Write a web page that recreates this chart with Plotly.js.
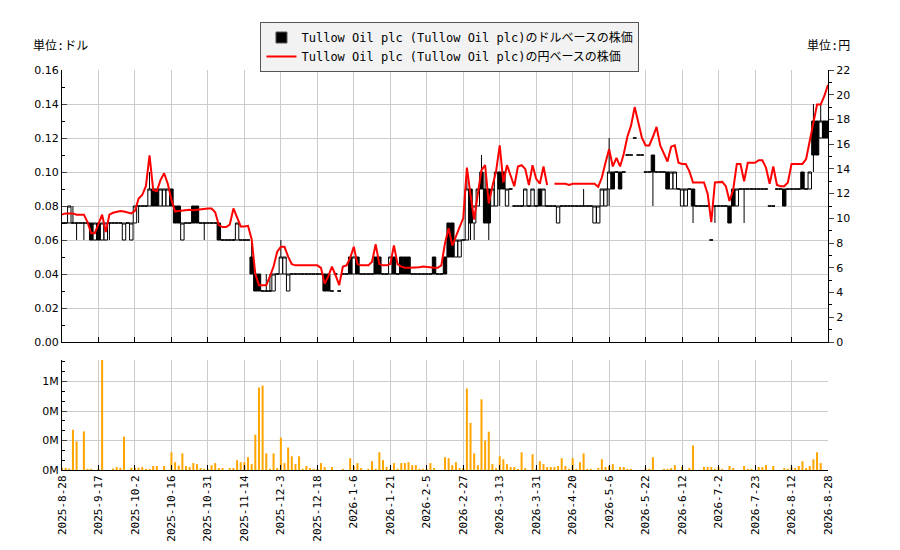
<!DOCTYPE html>
<html>
<head>
<meta charset="utf-8">
<script src="https://cdn.plot.ly/plotly-3.0.1.min.js"></script>
<style>
  html, body { margin: 0; padding: 0; background: #fff; }
  #chart { width: 900px; height: 550px; }
</style>
</head>
<body>
<div id="chart"></div>
<script>
// daily prices in USD (open/high/low/close), one entry per trading day
var usdOpen = [
  .07,.07,.07,.07,.07,.07,.07,.07,.07,.06,
  .07,.06,.06,.07,.07,.07,.07,.06,.07,.06,
  .07,.08,.08,.08,.08,.09,.09,.08,.08,.08,
  .09,.08,.08,.06,.07,.07,.08,.08,.07,.07,
  .07,.07,.07,.07,.06,.06,.06,.06,.06,.06,
  .06,.06,.05,.04,.04,.03,.03,.03,.03,.04,
  .04,.04,.03,.04,.04,.04,.04,.04,.04,.04,
  .04,.04,.04,.04,.03,.04,.03,.04,.04,.05,
  .04,.05,.04,.04,.04,.04,.05,.05,.04,.04,
  .04,.05,.04,.05,.05,.05,.04,.04,.04,.04,
  .04,.04,.05,.04,.04,.05,.07,.07,.05,.05,
  .06,.06,.09,.07,.08,.10,.09,.09,.08,.08,
  .10,.10,.08,.09,.08,.08,.08,.08,.08,.08,
  .08,.09,.08,.08,.08,.08,.07,.08,.08,.08,
  .08,.08,.08,.08,.08,.08,.07,.07,.08,.08,
  .09,.10,.10,.10,.10,.11,.11,.12,.11,.11,
  .10,.10,.11,.10,.10,.10,.10,.09,.09,.09,
  .08,.08,.09,.09,.08,.08,.08,.08,.06,.08,
  .08,.08,.08,.08,.09,.08,.09,.09,.09,.09,
  .09,.09,.09,.09,.08,.08,.09,.09,.09,.09,
  .09,.09,.09,.10,.09,.09,.13,.13,.12,.13,
  .13
];
var usdHigh = [
  .07,.07,.08,.08,.07,.07,.07,.07,.07,.07,
  .07,.07,.07,.07,.07,.07,.07,.07,.07,.07,
  .08,.08,.08,.08,.10,.09,.09,.09,.09,.09,
  .09,.08,.08,.07,.07,.07,.08,.08,.07,.07,
  .07,.07,.07,.07,.06,.06,.06,.06,.07,.06,
  .06,.06,.06,.04,.04,.03,.04,.04,.04,.04,
  .06,.05,.04,.04,.04,.04,.04,.04,.04,.04,
  .04,.04,.04,.04,.03,.04,.03,.04,.04,.05,
  .05,.05,.04,.04,.04,.04,.05,.05,.04,.04,
  .05,.05,.04,.05,.05,.05,.04,.04,.04,.04,
  .04,.04,.05,.04,.04,.05,.07,.07,.06,.06,
  .06,.10,.09,.08,.09,.11,.10,.09,.09,.10,
  .10,.10,.09,.09,.08,.08,.08,.09,.08,.09,
  .08,.09,.09,.08,.08,.08,.08,.08,.08,.08,
  .08,.08,.08,.09,.08,.08,.08,.08,.09,.09,
  .12,.10,.10,.10,.10,.11,.11,.12,.11,.11,
  .10,.10,.11,.10,.10,.10,.10,.10,.10,.09,
  .09,.09,.09,.09,.08,.08,.08,.08,.06,.08,
  .08,.08,.08,.08,.09,.09,.09,.09,.09,.09,
  .09,.09,.09,.09,.08,.08,.09,.09,.09,.09,
  .09,.09,.09,.10,.09,.10,.14,.13,.14,.13,
  .13
];
var usdLow = [
  .07,.07,.07,.07,.06,.07,.06,.07,.06,.06,
  .06,.06,.06,.06,.07,.07,.07,.06,.07,.06,
  .07,.07,.08,.08,.08,.08,.08,.08,.08,.08,
  .08,.07,.07,.06,.07,.07,.07,.07,.07,.06,
  .07,.07,.07,.06,.06,.06,.06,.06,.06,.06,
  .06,.06,.04,.03,.03,.03,.03,.03,.03,.04,
  .04,.04,.03,.04,.04,.04,.04,.04,.04,.04,
  .04,.04,.03,.03,.03,.04,.03,.04,.04,.04,
  .04,.04,.04,.04,.04,.04,.04,.04,.04,.04,
  .04,.04,.04,.04,.04,.04,.04,.04,.04,.04,
  .04,.04,.04,.04,.04,.04,.05,.05,.05,.05,
  .06,.06,.06,.06,.08,.09,.07,.06,.08,.08,
  .08,.09,.08,.09,.08,.08,.08,.08,.08,.08,
  .08,.08,.08,.08,.08,.08,.07,.08,.08,.08,
  .08,.08,.08,.08,.08,.08,.07,.07,.08,.08,
  .08,.09,.10,.09,.10,.11,.11,.12,.11,.11,
  .10,.10,.08,.10,.10,.10,.09,.09,.09,.09,
  .08,.08,.09,.07,.08,.08,.08,.08,.06,.07,
  .08,.08,.08,.07,.08,.08,.09,.07,.09,.09,
  .09,.09,.09,.09,.08,.08,.09,.09,.08,.09,
  .09,.09,.09,.09,.09,.09,.10,.11,.12,.12,
  .12
];
var usdClose = [
  .07,.07,.08,.07,.07,.07,.07,.07,.06,.07,
  .06,.07,.07,.07,.07,.07,.07,.07,.07,.07,
  .08,.08,.08,.08,.09,.08,.08,.09,.09,.09,
  .08,.07,.07,.07,.07,.07,.07,.07,.07,.07,
  .07,.07,.07,.06,.06,.06,.06,.06,.07,.06,
  .06,.06,.04,.03,.03,.03,.03,.03,.04,.04,
  .05,.05,.04,.04,.04,.04,.04,.04,.04,.04,
  .04,.04,.03,.03,.03,.04,.03,.04,.04,.04,
  .05,.04,.04,.04,.04,.04,.04,.04,.04,.04,
  .05,.04,.04,.04,.04,.04,.04,.04,.04,.04,
  .04,.04,.04,.04,.04,.04,.05,.05,.06,.06,
  .06,.09,.07,.08,.09,.09,.07,.07,.09,.10,
  .09,.09,.09,.09,.08,.08,.08,.09,.08,.09,
  .08,.08,.09,.08,.08,.08,.08,.08,.08,.08,
  .08,.08,.08,.08,.08,.08,.08,.08,.09,.09,
  .10,.09,.10,.09,.10,.11,.11,.12,.11,.11,
  .10,.10,.10,.10,.10,.10,.09,.10,.10,.09,
  .09,.09,.09,.08,.08,.08,.08,.08,.06,.08,
  .08,.08,.08,.07,.08,.09,.09,.09,.09,.09,
  .09,.09,.09,.09,.08,.08,.09,.09,.08,.09,
  .09,.09,.09,.09,.09,.10,.11,.11,.13,.12,
  .12
];
// close in JPY (null = no quote)
var jpyClose = [
  10.3,10.4,10.4,10.4,10.3,10.3,10.3,9.7,8.8,8.8,
  9.5,10.3,8.9,10.3,10.45,10.5,10.6,10.55,10.5,10.4,
  10.6,11.6,11.9,12.6,15.1,12.3,12.2,13.1,13.65,12.8,
  11.5,10.55,10.6,10.65,10.7,10.7,10.65,10.7,10.75,10.8,
  10.8,10.8,10.5,9.45,9.3,9.3,9.5,10.8,10.0,9.35,
  9.35,9.4,8.3,5.5,4.6,4.6,4.6,5.3,6.1,7.3,
  7.7,7.7,6.9,6.3,6.2,6.2,6.2,6.2,6.2,6.2,
  6.2,6.0,4.7,5.3,6.1,5.4,4.6,6.1,6.2,6.8,
  7.7,6.3,6.2,6.2,6.2,6.5,7.9,6.3,6.2,6.2,
  6.3,7.8,6.3,6.1,6.0,6.0,6.0,6.05,6.05,6.1,
  6.05,6.0,6.0,6.0,6.2,8.0,9.2,7.8,8.6,9.3,
  10.0,14.1,11.9,9.9,12.0,13.9,14.3,11.2,12.6,13.8,
  15.9,12.9,14.3,13.5,12.6,14.2,14.3,14.0,12.7,14.3,
  13.2,12.8,14.2,12.7,null,12.8,12.8,12.8,12.8,12.7,
  12.8,12.8,12.8,12.8,12.8,12.8,12.8,12.55,13.3,14.5,
  15.6,14.2,14.9,14.2,15.2,16.6,17.5,19.0,17.8,16.5,
  15.9,15.9,16.6,17.4,15.9,15.2,14.6,15.8,15.9,14.5,
  14.4,14.4,13.8,12.9,12.9,12.9,12.9,12.0,9.7,12.9,
  12.95,12.95,12.6,11.4,12.3,14.4,14.4,13.0,14.5,14.5,
  14.5,14.7,14.7,14.1,12.8,14.2,12.7,12.6,12.6,12.9,
  14.4,14.4,14.4,14.4,14.8,16.2,17.8,19.2,19.2,19.9,
  20.8
];
// traded volume (shares)
var volume = [
  15000,15000,10000,273000,195000,0,262000,8000,8000,0,
  8000,800000,0,0,10000,20000,15000,227000,0,15000,
  15000,15000,20000,8000,8000,27000,27000,0,27000,0,
  120000,53000,30000,113000,27000,20000,47000,40000,13000,8000,
  6000,33000,47000,13000,13000,0,13000,13000,67000,53000,
  53000,87000,40000,240000,560000,573000,113000,8000,113000,13000,
  220000,47000,153000,93000,40000,93000,8000,27000,13000,8000,
  8000,47000,20000,0,20000,0,0,8000,0,80000,
  27000,47000,13000,0,8000,60000,8000,120000,67000,20000,
  8000,47000,8000,47000,47000,53000,33000,33000,8000,8000,
  8000,47000,13000,0,0,87000,80000,33000,53000,13000,
  13000,553000,320000,113000,33000,480000,200000,260000,40000,13000,
  93000,73000,40000,20000,20000,8000,120000,13000,0,107000,
  8000,60000,40000,20000,20000,20000,27000,80000,27000,8000,
  80000,8000,53000,113000,8000,8000,0,13000,73000,20000,
  27000,40000,0,20000,20000,8000,8000,0,0,0,
  13000,8000,87000,0,0,8000,8000,13000,33000,0,
  20000,0,13000,167000,0,0,20000,20000,20000,8000,
  20000,8000,0,27000,13000,0,0,27000,8000,8000,
  0,20000,20000,33000,0,27000,0,0,13000,8000,
  20000,13000,27000,60000,13000,27000,73000,120000,47000,0,
  0
];
// date labels shown every 10 trading days
var tickLabels = ["2025-8-28","2025-9-17","2025-10-2","2025-10-16","2025-10-31","2025-11-14",
  "2025-12-3","2025-12-18","2026-1-6","2026-1-21","2026-2-5","2026-2-27","2026-3-13",
  "2026-3-31","2026-4-20","2026-5-6","2026-5-22","2026-6-12","2026-7-2","2026-7-23",
  "2026-8-12","2026-8-28"];
var volTicks = [0, 200000, 400000, 600000];
var volTickText = ["0M", "0M", "0M", "1M"];

var usdName = "Tullow Oil plc (Tullow Oil plc)のドルベースの株価";
var jpyName = "Tullow Oil plc (Tullow Oil plc)の円ベースの株価";

var days = usdClose.map(function(_, i){ return i; });
var tickPos = tickLabels.map(function(_, i){ return i * 10; });

var mono = "DejaVu Sans Mono, Noto Sans CJK JP, sans-serif";
var sans = "DejaVu Sans, Noto Sans CJK JP, sans-serif";

var candles = {
  type: 'candlestick', x: days,
  open: usdOpen, high: usdHigh, low: usdLow, close: usdClose,
  xaxis: 'x', yaxis: 'y', showlegend: false, whiskerwidth: 0,
  increasing: {line: {color: '#000', width: 1}, fillcolor: '#fff'},
  decreasing: {line: {color: '#000', width: 1}, fillcolor: '#000'},
  hoverinfo: 'skip'
};
// legend swatch for the candles (single black square like the original)
var usdKey = {
  type: 'scatter', mode: 'markers', x: [null], y: [null], name: usdName,
  marker: {symbol: 'square', color: '#000', size: 11, line: {color: '#555', width: 1}},
  xaxis: 'x', yaxis: 'y'
};
var jpyLine = {
  type: 'scatter', mode: 'lines', x: days, y: jpyClose, name: jpyName,
  line: {color: '#ff0000', width: 2}, connectgaps: false,
  xaxis: 'x', yaxis: 'y2', hoverinfo: 'skip'
};
var volBars = {
  type: 'bar', x: days, y: volume, marker: {color: '#ffa500'}, width: 0.55,
  xaxis: 'x2', yaxis: 'y3', showlegend: false, hoverinfo: 'skip'
};

var xBase = {
  range: [0, 210], tickvals: tickPos, ticktext: tickLabels,
  showgrid: true, gridcolor: '#cccccc', gridwidth: 1,
  showline: true, linecolor: '#000', linewidth: 1,
  ticks: 'inside', ticklen: 5, tickcolor: '#000', zeroline: false,
  fixedrange: true
};

var layout = {
  width: 900, height: 550,
  margin: {l: 62, r: 72, t: 70, b: 80, autoexpand: false},
  paper_bgcolor: '#fff', plot_bgcolor: '#fff',
  font: {family: mono, size: 11, color: '#000'},
  boxgap: 0.06, boxgroupgap: 0,
  showlegend: true,
  legend: {
    xref: 'paper', yref: 'paper', x: 0.5065, y: 1.12,
    xanchor: 'center', yanchor: 'top', traceorder: 'normal',
    bgcolor: '#f2f2f2', bordercolor: '#555', borderwidth: 1,
    font: {family: mono, size: 12, color: '#000'},
    tracegroupgap: 0, itemwidth: 30
  },
  xaxis: Object.assign({}, xBase, {
    domain: [0, 1], anchor: 'y', showticklabels: false,
    rangeslider: {visible: false}
  }),
  xaxis2: Object.assign({}, xBase, {
    domain: [0, 1], anchor: 'y3', tickangle: -90,
    tickfont: {family: mono, size: 11}
  }),
  yaxis: {
    domain: [0.32, 1], range: [0, 0.16], dtick: 0.02, tickformat: '.2f',
    showgrid: true, gridcolor: '#cccccc', zeroline: false,
    showline: true, linecolor: '#000', ticks: 'inside', ticklen: 5,
    minor: {dtick: 0.01, ticks: 'inside', ticklen: 3, tickcolor: '#000', showgrid: false},
    tickfont: {family: sans, size: 11}, fixedrange: true
  },
  yaxis2: {
    overlaying: 'y', side: 'right', anchor: 'x', range: [0, 22], dtick: 2,
    showgrid: false, zeroline: false, showline: true, linecolor: '#000',
    ticks: 'outside', ticklen: 5,
    minor: {dtick: 1, ticks: 'outside', ticklen: 3, tickcolor: '#000'},
    tickfont: {family: sans, size: 11}, fixedrange: true
  },
  yaxis3: {
    domain: [0, 0.275], range: [0, 746667], anchor: 'x2',
    tickvals: volTicks, ticktext: volTickText,
    showgrid: true, gridcolor: '#cccccc', zeroline: false,
    showline: true, linecolor: '#000', ticks: 'inside', ticklen: 5,
    minor: {dtick: 66666.67, ticks: 'inside', ticklen: 3, tickcolor: '#000', showgrid: false},
    tickfont: {family: sans, size: 11}, fixedrange: true
  },
  annotations: [
    {text: '単位:ドル', xref: 'paper', yref: 'paper', x: -0.041, y: 1.06,
     xanchor: 'left', yanchor: 'middle', showarrow: false, font: {family: mono, size: 12}},
    {text: '単位:円', xref: 'paper', yref: 'paper', x: 1.031, y: 1.06,
     xanchor: 'right', yanchor: 'middle', showarrow: false, font: {family: mono, size: 12}}
  ]
};

Plotly.newPlot('chart', [volBars, candles, usdKey, jpyLine], layout, {staticPlot: true, displayModeBar: false});
</script>
</body>
</html>
